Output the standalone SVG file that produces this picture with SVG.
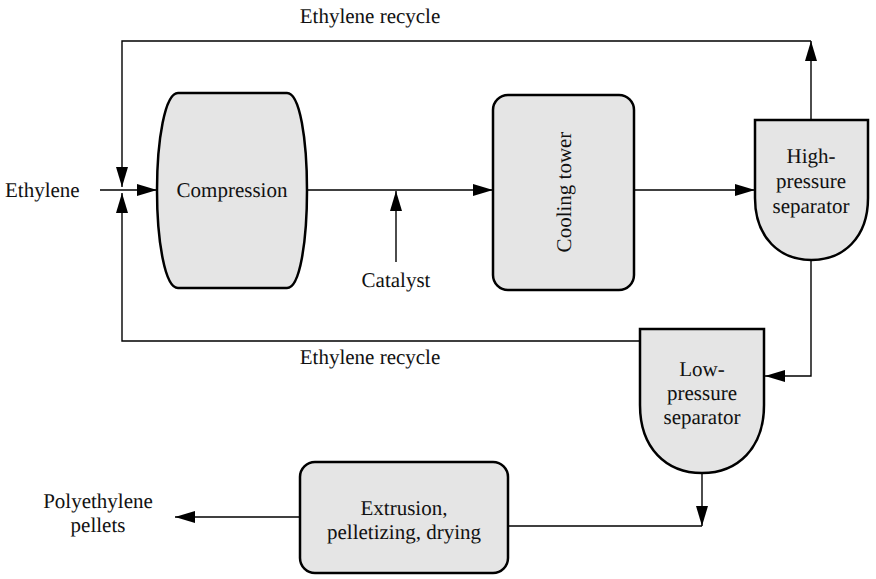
<svg xmlns="http://www.w3.org/2000/svg" width="876" height="579" viewBox="0 0 876 579">
  <style>
    .node { fill: #e5e5e5; stroke: #000; stroke-width: 2.5; }
    .conn { fill: none; stroke: #000; stroke-width: 1.4; }
    text { font-family: 'Liberation Serif', 'Times New Roman', serif; font-size: 21px; fill: #111; text-rendering: geometricPrecision; }
    .c { text-anchor: middle; }
  </style>
  <defs>
    <marker id="arr" markerUnits="userSpaceOnUse" markerWidth="20" markerHeight="12" refX="20" refY="6" orient="auto">
      <path d="M0,0 L20,6 L0,12 Z" fill="#000"/>
    </marker>
  </defs>
  <rect width="876" height="579" fill="#fff"/>

  <g id="connectors">
    <path class="conn" d="M100,190 H157" marker-end="url(#arr)"/>
    <path class="conn" d="M307,190 H493" marker-end="url(#arr)"/>
    <path class="conn" d="M396,262 V191" marker-end="url(#arr)"/>
    <path class="conn" d="M634,190 H755" marker-end="url(#arr)"/>
    <path class="conn" d="M811,120 V41" marker-end="url(#arr)"/>
    <path class="conn" d="M811,41 H122 V187" marker-end="url(#arr)"/>
    <path class="conn" d="M640,341 H122 V193" marker-end="url(#arr)"/>
    <path class="conn" d="M811,260 V376 H765" marker-end="url(#arr)"/>
    <path class="conn" d="M702,473 V526" marker-end="url(#arr)"/>
    <path class="conn" d="M508,526 H702"/>
    <path class="conn" d="M300,517 H175" marker-end="url(#arr)"/>
  </g>

  <g id="labels">
    <text x="5" y="197">Ethylene</text>
    <text class="c" x="370" y="23">Ethylene recycle</text>
    <text class="c" x="370" y="364">Ethylene recycle</text>
    <text class="c" x="396" y="287">Catalyst</text>
    <text class="c" x="98" y="508">Polyethylene</text>
    <text class="c" x="98" y="532">pellets</text>
  </g>

  <g id="compression">
    <path class="node" d="M178,93 H287 C300,93 307,140 307,190.5 C307,241 300,288 287,288 H178 C165,288 157,241 157,190.5 C157,140 165,93 178,93 Z"/>
    <text class="c" x="232" y="197">Compression</text>
  </g>

  <g id="cooling-tower">
    <rect class="node" x="493" y="95" width="141" height="195" rx="15" ry="15"/>
    <text class="c" x="563" y="200" transform="rotate(-90 563 192)">Cooling tower</text>
  </g>

  <g id="high-pressure-separator">
    <path class="node" d="M755,120 H868 V198 C868,238 843,260 811.5,260 C780,260 755,238 755,198 Z"/>
    <text class="c" x="811" y="163">High-</text>
    <text class="c" x="811" y="188">pressure</text>
    <text class="c" x="811" y="213">separator</text>
  </g>

  <g id="low-pressure-separator">
    <path class="node" d="M640,329 H764 V405 C764,448 738,473 702,473 C666,473 640,448 640,405 Z"/>
    <text class="c" x="702" y="376">Low-</text>
    <text class="c" x="702" y="400">pressure</text>
    <text class="c" x="702" y="424">separator</text>
  </g>

  <g id="extrusion">
    <rect class="node" x="300" y="462" width="208" height="111" rx="15" ry="15"/>
    <text class="c" x="404" y="515">Extrusion,</text>
    <text class="c" x="404" y="539">pelletizing, drying</text>
  </g>
</svg>
